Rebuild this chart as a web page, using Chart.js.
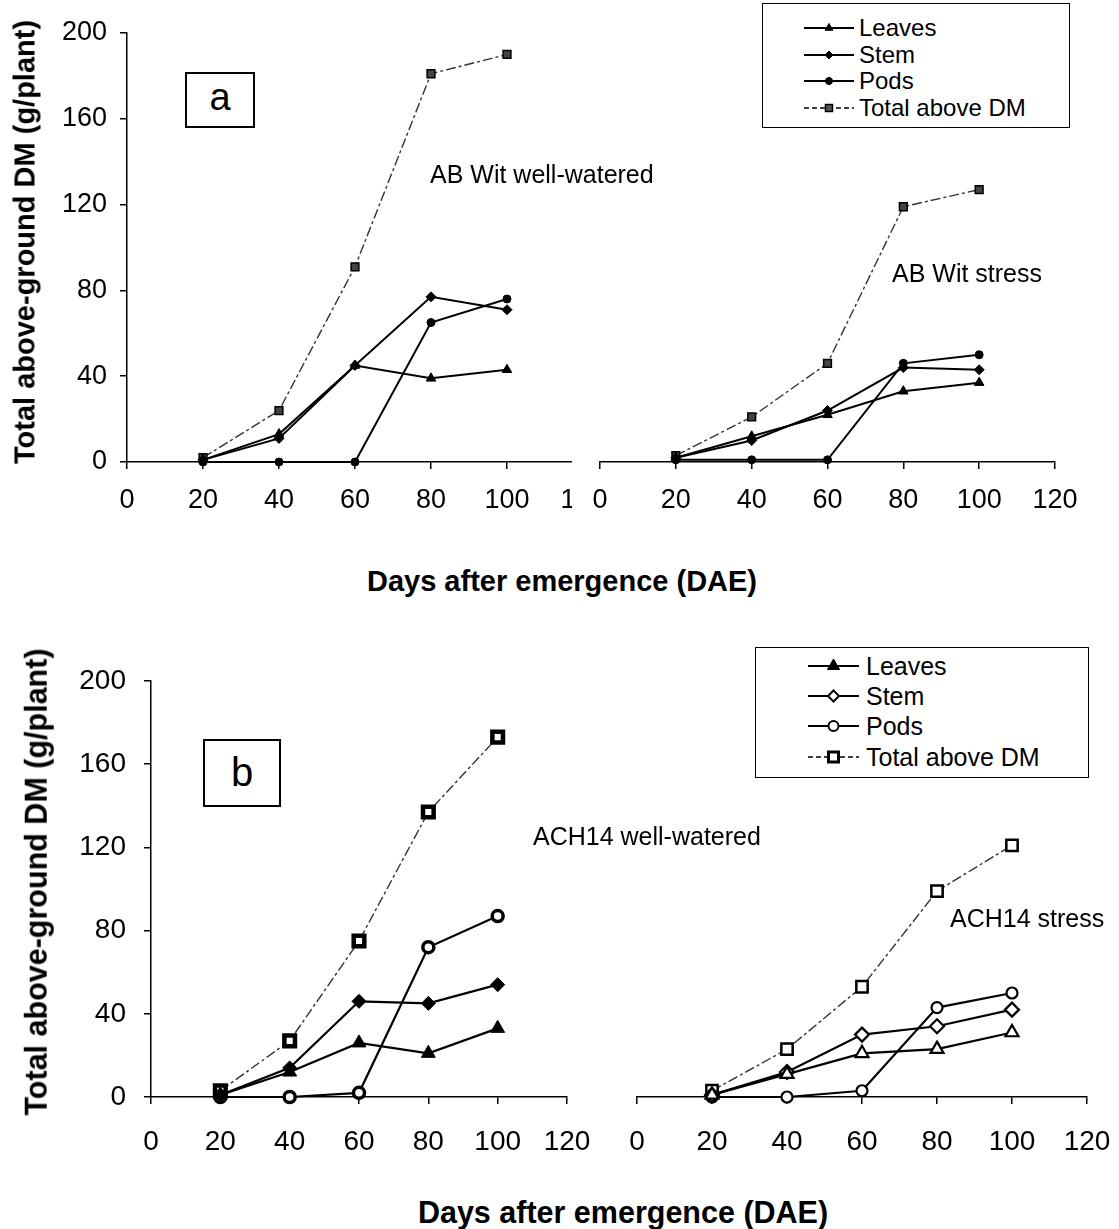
<!DOCTYPE html>
<html>
<head>
<meta charset="utf-8">
<title>Total above-ground DM</title>
<script src="https://cdn.jsdelivr.net/npm/chart.js@4.4.1/dist/chart.umd.min.js"></script>
<style>
  body { margin: 0; background: #fff; }
  #page { position: relative; width: 1119px; height: 1229px; overflow: hidden; background: #fff;
          font-family: Arial, "Liberation Sans", Helvetica, sans-serif; color: #000; }
  #page canvas { position: absolute; background: #fff; }
  .txt { position: absolute; white-space: nowrap; line-height: 1; z-index: 5; }
  .bold { font-weight: bold; }
  .ytitle { transform: translate(-50%, -50%) rotate(-90deg); }
  .xtitle { transform: translateX(-50%); }
  .tag { position: absolute; border: 2px solid #000; box-sizing: border-box; background: #fff; z-index: 5;
         display: flex; align-items: center; justify-content: center; line-height: 1; }
  .legend { position: absolute; border: 1.5px solid #000; box-sizing: border-box; background: #fff; z-index: 5; }
  .legend svg { position: absolute; }
</style>
</head>
<body>
<div id="page">
  <canvas id="a1" width="600" height="540" style="left:0;top:0"></canvas>
  <canvas id="a2" width="547" height="540" style="left:572px;top:0"></canvas>
  <canvas id="b1" width="600" height="560" style="left:0;top:630px"></canvas>
  <canvas id="b2" width="509" height="560" style="left:610px;top:630px"></canvas>

  <div class="txt bold ytitle" style="left:25px;top:242px;font-size:29px">Total above-ground DM (g/plant)</div>
  <div class="txt bold ytitle" style="left:36px;top:882px;font-size:30.5px">Total above-ground DM (g/plant)</div>
  <div class="txt bold xtitle" style="left:562px;top:567px;font-size:29px">Days after emergence (DAE)</div>
  <div class="txt bold xtitle" style="left:623px;top:1197px;font-size:30.5px">Days after emergence (DAE)</div>

  <div class="txt" style="left:430px;top:162px;font-size:25px">AB Wit well-watered</div>
  <div class="txt" style="left:892px;top:261px;font-size:25px">AB Wit stress</div>
  <div class="txt" style="left:533px;top:824px;font-size:25px">ACH14 well-watered</div>
  <div class="txt" style="left:950px;top:906px;font-size:25px">ACH14 stress</div>

  <div class="tag" style="left:185px;top:72px;width:70px;height:56px;font-size:38px;padding-bottom:6px">a</div>
  <div class="tag" style="left:203px;top:739px;width:78px;height:68px;font-size:40px;padding-bottom:2px">b</div>

  <div class="legend" id="legA" style="left:762px;top:3px;width:308px;height:125px"></div>
  <div class="legend" id="legB" style="left:755px;top:647px;width:334px;height:131px"></div>
</div>

<script>
const days = [20, 40, 60, 80, 100];
const xTickValues = [0, 20, 40, 60, 80, 100, 120];
const yTickValues = [0, 40, 80, 120, 160, 200];
const seriesNames = ["Leaves", "Stem", "Pods", "Total above DM"];

// (a) AB Wit well-watered
const abWellLeaves = [1, 13, 45, 39, 43];
const abWellStem = [1, 11, 45, 77, 71];
const abWellPods = [0, 0, 0, 65, 76];
const abWellTotal = [2, 24, 91, 181, 190];
// (a) AB Wit stress
const abStressLeaves = [2, 12, 22, 33, 37];
const abStressStem = [2, 10, 24, 44, 43];
const abStressPods = [1, 1, 1, 46, 50];
const abStressTotal = [3, 21, 46, 119, 127];
// (b) ACH14 well-watered
const achWellLeaves = [1, 12, 26, 21, 33];
const achWellStem = [1, 14, 46, 45, 54];
const achWellPods = [0, 0, 2, 72, 87];
const achWellTotal = [3, 27, 75, 137, 173];
// (b) ACH14 stress
const achStressLeaves = [1, 11, 21, 23, 31];
const achStressStem = [1, 12, 30, 34, 42];
const achStressPods = [0, 0, 3, 43, 50];
const achStressTotal = [3, 23, 53, 99, 121];

// marker looks, in series order: leaves, stem, pods, total
const smallMarks = [
  { style: "triangle", r: 5.5, fill: "#000", bw: 1 },
  { style: "rectRot", r: 5, fill: "#000", bw: 1 },
  { style: "circle", r: 4, fill: "#000", bw: 1 },
  { style: "rect", r: 5.5, fill: "#444", bw: 1.5 }
];
const bigMarks = [
  { style: "triangle", r: 8, fill: "#000", bw: 1 },
  { style: "rectRot", r: 7, fill: "#000", bw: 1 },
  { style: "circle", r: 5.5, fill: "#fff", bw: 3.5 },
  { style: "rect", r: 7.5, fill: "#fff", bw: 4.5 }
];
const openMarks = [
  { style: "triangle", r: 7.5, fill: "#fff", bw: 2.2 },
  { style: "rectRot", r: 7, fill: "#fff", bw: 2.2 },
  { style: "circle", r: 5.5, fill: "#fff", bw: 2.2 },
  { style: "rect", r: 8, fill: "#fff", bw: 2.5 }
];

function makeChart(id, series, marks, o) {
  const datasets = series.map((vals, i) => {
    const isTotal = i === 3;
    const m = marks[i];
    return {
      label: seriesNames[i],
      data: days.map((d, k) => ({ x: d, y: vals[k] })),
      borderColor: isTotal ? "#333" : "#000",
      borderWidth: isTotal ? 1.4 : o.lineW,
      borderDash: isTotal ? [10, 3, 3, 3] : [],
      pointStyle: m.style,
      pointRadius: m.r,
      pointBackgroundColor: m.fill,
      pointBorderColor: "#000",
      pointBorderWidth: m.bw,
      tension: 0,
      clip: false
    };
  });

  new Chart(document.getElementById(id), {
    type: "line",
    data: { datasets: datasets },
    options: {
      responsive: false,
      animation: false,
      devicePixelRatio: 1,
      events: [],
      layout: { autoPadding: false, padding: o.pad },
      plugins: { legend: { display: false }, tooltip: { enabled: false } },
      scales: {
        x: {
          type: "linear",
          min: 0,
          max: 120,
          afterBuildTicks: (s) => { s.ticks = xTickValues.map((v) => ({ value: v })); },
          ticks: { color: "#000", padding: o.xPad, maxRotation: 0, font: { family: "Arial", size: o.tickSize } },
          grid: { drawOnChartArea: false, drawTicks: true, tickLength: 7, color: "#000", lineWidth: 1.5 },
          border: { display: true, color: "#000", width: 1.5 },
          afterFit: (s) => { s.height = o.xHeight; s.paddingLeft = 0; s.paddingRight = 0; }
        },
        y: {
          type: "linear",
          min: 0,
          max: 200,
          display: o.showY,
          afterBuildTicks: (s) => { s.ticks = yTickValues.map((v) => ({ value: v })); },
          ticks: { color: "#000", padding: o.yPad, font: { family: "Arial", size: o.tickSize } },
          grid: { drawOnChartArea: false, drawTicks: true, tickLength: 7, color: "#000", lineWidth: 1.5 },
          border: { display: true, color: "#000", width: 1.5 },
          afterFit: (s) => { s.width = o.yWidth; s.paddingTop = 0; s.paddingBottom = 0; }
        }
      }
    }
  });
}

makeChart("a1", [abWellLeaves, abWellStem, abWellPods, abWellTotal], smallMarks,
  { showY: true, yWidth: 127, xHeight: 78, pad: { left: 0, right: 17, top: 33, bottom: 0 }, tickSize: 27, xPad: 15, yPad: 13, lineW: 2 });
makeChart("a2", [abStressLeaves, abStressStem, abStressPods, abStressTotal], smallMarks,
  { showY: false, yWidth: 0, xHeight: 78, pad: { left: 28, right: 64, top: 33, bottom: 0 }, tickSize: 27, xPad: 15, yPad: 13, lineW: 2 });
makeChart("b1", [achWellLeaves, achWellStem, achWellPods, achWellTotal], bigMarks,
  { showY: true, yWidth: 151, xHeight: 93, pad: { left: 0, right: 33, top: 51, bottom: 0 }, tickSize: 28, xPad: 21, yPad: 18, lineW: 2.2 });
makeChart("b2", [achStressLeaves, achStressStem, achStressPods, achStressTotal], openMarks,
  { showY: false, yWidth: 0, xHeight: 93, pad: { left: 27, right: 32, top: 51, bottom: 0 }, tickSize: 28, xPad: 21, yPad: 18, lineW: 2.2 });

// legend samples (line + marker) as small svg pieces
function markerSvg(m, cx, cy) {
  const r = m.r;
  const st = 'fill="' + m.fill + '" stroke="#000" stroke-width="' + m.bw + '"';
  if (m.shape === "triangle") {
    return '<polygon points="' + cx + "," + (cy - r) + " " + (cx - 0.87 * r) + "," + (cy + 0.5 * r) + " " +
      (cx + 0.87 * r) + "," + (cy + 0.5 * r) + '" ' + st + "/>";
  }
  if (m.shape === "diamond") {
    return '<polygon points="' + cx + "," + (cy - r) + " " + (cx + r) + "," + cy + " " + cx + "," + (cy + r) + " " +
      (cx - r) + "," + cy + '" ' + st + "/>";
  }
  if (m.shape === "circle") return '<circle cx="' + cx + '" cy="' + cy + '" r="' + r + '" ' + st + "/>";
  return '<rect x="' + (cx - r) + '" y="' + (cy - r) + '" width="' + 2 * r + '" height="' + 2 * r + '" ' + st + "/>";
}

function buildLegend(id, cfg) {
  const box = document.getElementById(id);
  const boxRect = { left: parseFloat(box.style.left), top: parseFloat(box.style.top) };
  let html = "";
  seriesNames.forEach((name, i) => {
    const cy = cfg.rows[i] - boxRect.top;
    const sx = cfg.lineX0 - boxRect.left;
    const w = cfg.lineX1 - cfg.lineX0;
    const dash = i === 3 ? ' stroke-dasharray="5,3"' : "";
    const lw = i === 3 ? 1.4 : 2;
    html += '<svg width="' + w + '" height="20" style="left:' + sx + "px;top:" + (cy - 10) + 'px">' +
      '<line x1="0" y1="10" x2="' + w + '" y2="10" stroke="#000" stroke-width="' + lw + '"' + dash + "/>" +
      markerSvg(cfg.marks[i], w / 2, 10) + "</svg>";
    html += '<div class="txt" style="left:' + (cfg.textX - boxRect.left) + "px;top:" +
      (cy - 0.49 * cfg.fontSize) + "px;font-size:" + cfg.fontSize + 'px">' + name + "</div>";
  });
  box.innerHTML = html;
}

buildLegend("legA", {
  rows: [27, 54, 80, 107], lineX0: 803, lineX1: 853, textX: 858, fontSize: 24,
  marks: [
    { shape: "triangle", r: 4.5, fill: "#000", bw: 1 },
    { shape: "diamond", r: 4, fill: "#000", bw: 1 },
    { shape: "circle", r: 3.5, fill: "#000", bw: 1 },
    { shape: "square", r: 3.5, fill: "#555", bw: 1.5 }
  ]
});
buildLegend("legB", {
  rows: [665, 695, 725, 756], lineX0: 807, lineX1: 858, textX: 865, fontSize: 25,
  marks: [
    { shape: "triangle", r: 7, fill: "#000", bw: 1 },
    { shape: "diamond", r: 5.5, fill: "#fff", bw: 2 },
    { shape: "circle", r: 5, fill: "#fff", bw: 2 },
    { shape: "square", r: 5, fill: "#fff", bw: 3 }
  ]
});
</script>
</body>
</html>
